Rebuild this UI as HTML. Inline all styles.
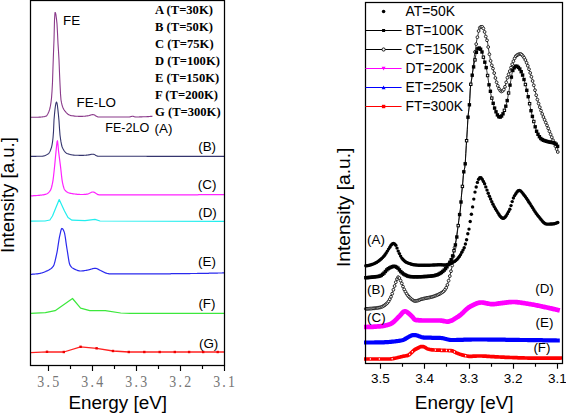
<!DOCTYPE html>
<html><head><meta charset="utf-8"><style>
html,body{margin:0;padding:0;background:#fff;width:566px;height:414px;overflow:hidden}
svg{position:absolute;left:0;top:0}

.ser{font-family:"Liberation Serif",serif}
</style></head><body>
<svg width="566" height="414" viewBox="0 0 566 414">
<g fill="none" stroke-linejoin="round">
<path d="M30.5 117.3 L31 117.3 L31.5 117.3 L32 117.3 L32.5 117.3 L33 117.3 L33.5 117.3 L34 117.3 L34.5 117.3 L35 117.3 L35.5 117.2 L36 117.2 L36.5 117.2 L37 117.2 L37.5 117.2 L38 117.2 L38.5 117.2 L39 117.1 L39.5 117.1 L40 117.1 L40.5 117.1 L41 117 L41.5 117 L42 117 L42.5 116.9 L43 116.8 L43.5 116.8 L44 116.7 L44.5 116.6 L45 116.4 L45.5 116.3 L46 116.2 L46.5 115.8 L47 115.3 L47.5 114.5 L48 113.6 L48.5 112.5 L49 111.3 L49.5 109.9 L50 108 L50.5 105.5 L51 102.3 L51.5 98.1 L52 91.5 L52.5 82.2 L53 66.8 L53.5 52.8 L54 40 L54.5 20 L55 12.5 L55.5 12.8 L56 15.2 L56.5 19.1 L57 23.9 L57.5 33 L58 43.6 L58.5 51.3 L59 60 L59.5 72.7 L60 84.1 L60.5 93.9 L61 100 L61.5 102.7 L62 104.8 L62.5 106.5 L63 107.8 L63.5 108.9 L64 109.7 L64.5 110.4 L65 111.1 L65.5 111.7 L66 112.3 L66.5 112.8 L67 113.3 L67.5 113.8 L68 114.2 L68.5 114.5 L69 114.9 L69.5 115.1 L70 115.3 L70.5 115.5 L71 115.6 L71.5 115.7 L72 115.8 L72.5 115.8 L73 115.9 L73.5 115.9 L74 116 L74.5 116.1 L75 116.1 L75.5 116.2 L76 116.2 L76.5 116.2 L77 116.3 L77.5 116.3 L78 116.3 L78.5 116.4 L79 116.4 L79.5 116.4 L80 116.4 L80.5 116.4 L81 116.4 L81.5 116.4 L82 116.4 L82.5 116.4 L83 116.3 L83.5 116.3 L84 116.2 L84.5 116.2 L85 116.2 L85.5 116.1 L86 116 L86.5 116 L87 115.9 L87.5 115.9 L88 115.8 L88.5 115.7 L89 115.6 L89.5 115.4 L90 115.3 L90.5 115.1 L91 115 L91.5 114.8 L92 114.7 L92.5 114.6 L93 114.6 L93.5 114.7 L94 114.8 L94.5 115.1 L95 115.3 L95.5 115.7 L96 116 L96.5 116.3 L97 116.6 L97.5 116.8 L98 117 L98.5 117 L99 117 L99.5 117 L100 117 L100.5 117 L101 117 L101.5 117 L102 117 L102.5 117 L103 117 L103.5 117 L104 117 L104.5 117 L105 117 L105.5 117 L106 117 L106.5 117 L107 117 L107.5 117 L108 117 L108.5 117 L109 117 L109.5 117 L110 117 L110.5 117 L111 117 L111.5 117 L112 117 L112.5 117 L113 117 L113.5 117 L114 117 L114.5 117 L115 117 L115.5 117 L116 117 L116.5 117 L117 117 L117.5 117 L118 117 L118.5 117 L119 117 L119.5 117 L120 117 L120.5 117 L121 117 L121.5 117 L122 117 L122.5 117 L123 117 L123.5 117 L124 117 L124.5 117 L125 117 L125.5 117 L126 117 L126.5 117 L127 117 L127.5 117 L128 117 L128.5 117 L129 117 L129.5 117 L130 116.9 L130.5 116.8 L131 116.6 L131.5 116.4 L132 116.2 L132.5 116.2 L133 116.3 L133.5 116.4 L134 116.6 L134.5 116.7 L135 116.9 L135.5 117 L136 117 L136.5 117 L137 117 L137.5 117 L138 117 L138.5 117 L139 117 L139.5 116.9 L140 116.9 L140.5 116.9 L141 116.9 L141.5 116.9 L142 116.9 L142.5 116.8 L143 116.8 L143.5 116.8 L144 116.8 L144.5 116.8 L145 116.7 L145.5 116.7 L146 116.7 L146.5 116.7 L147 116.6 L147.5 116.6 L148 116.6 L148.5 116.6 L149 116.5 L149.5 116.5 L150 116.5 L150.5 116.4 L151 116.4 L151.5 116.4 L152 116.3 L152.5 116.3" stroke="#8a3a8a" stroke-width="1.1"/>
<path d="M30.5 156.4 L31 156.4 L31.5 156.4 L32 156.4 L32.5 156.4 L33 156.4 L33.5 156.4 L34 156.4 L34.5 156.4 L35 156.4 L35.5 156.4 L36 156.4 L36.5 156.3 L37 156.3 L37.5 156.3 L38 156.3 L38.5 156.3 L39 156.3 L39.5 156.3 L40 156.3 L40.5 156.3 L41 156.2 L41.5 156.2 L42 156.2 L42.5 156.2 L43 156.1 L43.5 156 L44 155.9 L44.5 155.7 L45 155.6 L45.5 155.4 L46 155.1 L46.5 154.9 L47 154.6 L47.5 154.3 L48 154 L48.5 153.6 L49 153.1 L49.5 152.3 L50 151.4 L50.5 150.2 L51 148.8 L51.5 147.3 L52 145.1 L52.5 142.1 L53 138 L53.5 131.6 L54 120 L54.5 114.2 L55 109.3 L55.5 105.5 L56 102.9 L56.5 102 L57 103.2 L57.5 106.2 L58 110.6 L58.5 115.5 L59 120.9 L59.5 128.6 L60 135 L60.5 138.7 L61 141.9 L61.5 144.5 L62 146.5 L62.5 147.8 L63 148.8 L63.5 149.7 L64 150.6 L64.5 151.3 L65 151.9 L65.5 152.4 L66 152.9 L66.5 153.2 L67 153.5 L67.5 153.7 L68 153.8 L68.5 154 L69 154.2 L69.5 154.3 L70 154.4 L70.5 154.6 L71 154.7 L71.5 154.8 L72 154.9 L72.5 155 L73 155 L73.5 155.1 L74 155.1 L74.5 155.2 L75 155.2 L75.5 155.2 L76 155.2 L76.5 155.3 L77 155.3 L77.5 155.3 L78 155.3 L78.5 155.3 L79 155.4 L79.5 155.4 L80 155.4 L80.5 155.4 L81 155.4 L81.5 155.4 L82 155.4 L82.5 155.4 L83 155.4 L83.5 155.4 L84 155.3 L84.5 155.3 L85 155.3 L85.5 155.2 L86 155.2 L86.5 155.1 L87 155.1 L87.5 155 L88 155 L88.5 154.9 L89 154.9 L89.5 154.8 L90 154.6 L90.5 154.5 L91 154.4 L91.5 154.3 L92 154.3 L92.5 154.2 L93 154.2 L93.5 154.3 L94 154.4 L94.5 154.6 L95 154.9 L95.5 155.2 L96 155.5 L96.5 155.8 L97 156 L97.5 156.1 L98 156.2 L98.5 156.2 L99 156.2 L99.5 156.2 L100 156.2 L100.5 156.2 L101 156.2 L101.5 156.2 L102 156.2 L102.5 156.2 L103 156.2 L103.5 156.2 L104 156.2 L104.5 156.2 L105 156.2 L105.5 156.2 L106 156.2 L106.5 156.2 L107 156.2 L107.5 156.2 L108 156.2 L108.5 156.2 L109 156.2 L109.5 156.2 L110 156.2 L110.5 156.3 L111 156.3 L111.5 156.3 L112 156.3 L112.5 156.3 L113 156.3 L113.5 156.3 L114 156.3 L114.5 156.3 L115 156.3 L115.5 156.3 L116 156.3 L116.5 156.3 L117 156.3 L117.5 156.3 L118 156.3 L118.5 156.3 L119 156.3 L119.5 156.3 L120 156.3 L120.5 156.3 L121 156.3 L121.5 156.3 L122 156.3 L122.5 156.3 L123 156.3 L123.5 156.3 L124 156.3 L124.5 156.3 L125 156.3 L125.5 156.3 L126 156.3 L126.5 156.3 L127 156.3 L127.5 156.3 L128 156.3 L128.5 156.3 L129 156.3 L129.5 156.3 L130 156.3 L130.5 156.3 L131 156.3 L131.5 156.3 L132 156.3 L132.5 156.3 L133 156.3 L133.5 156.3 L134 156.3 L134.5 156.3 L135 156.3 L135.5 156.3 L136 156.3 L136.5 156.3 L137 156.3 L137.5 156.3 L138 156.3 L138.5 156.3 L139 156.3 L139.5 156.3 L140 156.3 L140.5 156.3 L141 156.3 L141.5 156.3 L142 156.3 L142.5 156.3 L143 156.3 L143.5 156.3 L144 156.3 L144.5 156.3 L145 156.3 L145.5 156.3 L146 156.3 L146.5 156.3 L147 156.4 L147.5 156.4 L148 156.4 L148.5 156.4 L149 156.4 L149.5 156.4 L150 156.4 L150.5 156.4 L151 156.4 L151.5 156.4 L152 156.4 L152.5 156.4 L153 156.4 L153.5 156.4 L154 156.4 L154.5 156.4 L155 156.4 L155.5 156.4 L156 156.4 L156.5 156.4 L157 156.4 L157.5 156.4 L158 156.4 L158.5 156.4 L159 156.4 L159.5 156.4 L160 156.4 L160.5 156.4 L161 156.4 L161.5 156.4 L162 156.4 L162.5 156.4 L163 156.4 L163.5 156.4 L164 156.4 L164.5 156.4 L165 156.4 L165.5 156.4 L166 156.4 L166.5 156.4 L167 156.4 L167.5 156.4 L168 156.4 L168.5 156.4 L169 156.4 L169.5 156.4 L170 156.4 L170.5 156.4 L171 156.4 L171.5 156.4 L172 156.4 L172.5 156.4 L173 156.4 L173.5 156.4 L174 156.4 L174.5 156.4 L175 156.4 L175.5 156.4 L176 156.4 L176.5 156.4 L177 156.4 L177.5 156.4 L178 156.4 L178.5 156.4 L179 156.4 L179.5 156.4 L180 156.4 L180.5 156.4 L181 156.4 L181.5 156.4 L182 156.4 L182.5 156.4 L183 156.4 L183.5 156.4 L184 156.4 L184.5 156.4 L185 156.4 L185.5 156.4 L186 156.4 L186.5 156.4 L187 156.4 L187.5 156.4 L188 156.4 L188.5 156.4 L189 156.4 L189.5 156.4 L190 156.4 L190.5 156.4 L191 156.4 L191.5 156.4 L192 156.4 L192.5 156.4 L193 156.4 L193.5 156.4 L194 156.4 L194.5 156.4 L195 156.4 L195.5 156.4 L196 156.4 L196.5 156.4 L197 156.4 L197.5 156.4 L198 156.4 L198.5 156.4 L199 156.4 L199.5 156.4 L200 156.4 L200.5 156.4 L201 156.4 L201.5 156.4 L202 156.4 L202.5 156.4 L203 156.4 L203.5 156.4 L204 156.4 L204.5 156.4 L205 156.4 L205.5 156.4 L206 156.4 L206.5 156.4 L207 156.4 L207.5 156.4 L208 156.4 L208.5 156.4 L209 156.4 L209.5 156.4 L210 156.4 L210.5 156.4 L211 156.4 L211.5 156.4 L212 156.4 L212.5 156.4 L213 156.4 L213.5 156.4 L214 156.4 L214.5 156.4 L215 156.4 L215.5 156.4 L216 156.4 L216.5 156.4 L217 156.4 L217.5 156.4 L218 156.4 L218.5 156.4 L219 156.4 L219.5 156.4 L220 156.4 L220.5 156.4 L221 156.4 L221.5 156.4 L222 156.4 L222.5 156.4 L223 156.4 L223.5 156.4 L224 156.4" stroke="#35356e" stroke-width="1.1"/>
<path d="M30.5 195.8 L31 195.8 L31.5 195.8 L32 195.8 L32.5 195.8 L33 195.8 L33.5 195.7 L34 195.7 L34.5 195.7 L35 195.7 L35.5 195.6 L36 195.6 L36.5 195.5 L37 195.5 L37.5 195.5 L38 195.4 L38.5 195.4 L39 195.3 L39.5 195.3 L40 195.2 L40.5 195.2 L41 195.1 L41.5 195.1 L42 195 L42.5 194.9 L43 194.9 L43.5 194.8 L44 194.7 L44.5 194.6 L45 194.4 L45.5 194.3 L46 194.2 L46.5 194 L47 193.8 L47.5 193.5 L48 193.1 L48.5 192.7 L49 192.2 L49.5 191.6 L50 190.9 L50.5 190.2 L51 189.1 L51.5 187.5 L52 185.5 L52.5 183.1 L53 180.3 L53.5 176.5 L54 172 L54.5 167.3 L55 162.3 L55.5 156.8 L56 151.6 L56.5 146.7 L57 142 L57.5 140.7 L58 145 L58.5 150.7 L59 154.8 L59.5 158.7 L60 162.5 L60.5 166.4 L61 170.8 L61.5 175.5 L62 179.6 L62.5 182.6 L63 184.8 L63.5 186.8 L64 188.4 L64.5 189.5 L65 190.2 L65.5 190.8 L66 191.2 L66.5 191.7 L67 192 L67.5 192.3 L68 192.6 L68.5 192.8 L69 193 L69.5 193.1 L70 193.2 L70.5 193.3 L71 193.4 L71.5 193.5 L72 193.6 L72.5 193.7 L73 193.8 L73.5 193.8 L74 193.9 L74.5 194 L75 194 L75.5 194.1 L76 194.2 L76.5 194.2 L77 194.3 L77.5 194.3 L78 194.3 L78.5 194.4 L79 194.4 L79.5 194.4 L80 194.5 L80.5 194.5 L81 194.5 L81.5 194.5 L82 194.5 L82.5 194.5 L83 194.5 L83.5 194.5 L84 194.4 L84.5 194.4 L85 194.4 L85.5 194.3 L86 194.3 L86.5 194.2 L87 194.2 L87.5 194.1 L88 194 L88.5 193.8 L89 193.5 L89.5 193.3 L90 193 L90.5 192.8 L91 192.5 L91.5 192.3 L92 192.1 L92.5 192 L93 192 L93.5 192.1 L94 192.2 L94.5 192.4 L95 192.7 L95.5 193.1 L96 193.4 L96.5 193.7 L97 194.1 L97.5 194.4 L98 194.6 L98.5 194.7 L99 194.8 L99.5 194.8 L100 194.8 L100.5 194.8 L101 194.8 L101.5 194.8 L102 194.8 L102.5 194.8 L103 194.8 L103.5 194.8 L104 194.8 L104.5 194.8 L105 194.8 L105.5 194.8 L106 194.8 L106.5 194.8 L107 194.8 L107.5 194.8 L108 194.8 L108.5 194.8 L109 194.8 L109.5 194.8 L110 194.8 L110.5 194.8 L111 194.8 L111.5 194.8 L112 194.8 L112.5 194.8 L113 194.8 L113.5 194.8 L114 194.8 L114.5 194.8 L115 194.8 L115.5 194.8 L116 194.8 L116.5 194.8 L117 194.8 L117.5 194.8 L118 194.8 L118.5 194.8 L119 194.8 L119.5 194.8 L120 194.8 L120.5 194.8 L121 194.8 L121.5 194.8 L122 194.8 L122.5 194.8 L123 194.8 L123.5 194.8 L124 194.8 L124.5 194.8 L125 194.8 L125.5 194.8 L126 194.8 L126.5 194.8 L127 194.8 L127.5 194.8 L128 194.8 L128.5 194.8 L129 194.8 L129.5 194.8 L130 194.8 L130.5 194.8 L131 194.8 L131.5 194.8 L132 194.8 L132.5 194.8 L133 194.8 L133.5 194.8 L134 194.8 L134.5 194.8 L135 194.8 L135.5 194.8 L136 194.8 L136.5 194.8 L137 194.8 L137.5 194.8 L138 194.8 L138.5 194.8 L139 194.8 L139.5 194.8 L140 194.8 L140.5 194.8 L141 194.8 L141.5 194.8 L142 194.8 L142.5 194.8 L143 194.8 L143.5 194.8 L144 194.8 L144.5 194.8 L145 194.8 L145.5 194.8 L146 194.8 L146.5 194.8 L147 194.8 L147.5 194.8 L148 194.8 L148.5 194.8 L149 194.8 L149.5 194.8 L150 194.8 L150.5 194.8 L151 194.8 L151.5 194.8 L152 194.8 L152.5 194.8 L153 194.8 L153.5 194.8 L154 194.8 L154.5 194.8 L155 194.8 L155.5 194.8 L156 194.8 L156.5 194.8 L157 194.8 L157.5 194.8 L158 194.8 L158.5 194.8 L159 194.8 L159.5 194.8 L160 194.8 L160.5 194.8 L161 194.8 L161.5 194.8 L162 194.8 L162.5 194.8 L163 194.8 L163.5 194.8 L164 194.8 L164.5 194.8 L165 194.8 L165.5 194.8 L166 194.8 L166.5 194.8 L167 194.8 L167.5 194.8 L168 194.8 L168.5 194.8 L169 194.8 L169.5 194.8 L170 194.8 L170.5 194.8 L171 194.8 L171.5 194.8 L172 194.8 L172.5 194.8 L173 194.8 L173.5 194.8 L174 194.8 L174.5 194.8 L175 194.8 L175.5 194.8 L176 194.8 L176.5 194.8 L177 194.8 L177.5 194.8 L178 194.8 L178.5 194.8 L179 194.8 L179.5 194.8 L180 194.8 L180.5 194.8 L181 194.8 L181.5 194.8 L182 194.8 L182.5 194.8 L183 194.8 L183.5 194.8 L184 194.8 L184.5 194.8 L185 194.8 L185.5 194.8 L186 194.8 L186.5 194.8 L187 194.8 L187.5 194.8 L188 194.8 L188.5 194.8 L189 194.8 L189.5 194.8 L190 194.8 L190.5 194.8 L191 194.8 L191.5 194.8 L192 194.8 L192.5 194.8 L193 194.8 L193.5 194.8 L194 194.8 L194.5 194.8 L195 194.8 L195.5 194.8 L196 194.8 L196.5 194.8 L197 194.8 L197.5 194.8 L198 194.8 L198.5 194.7 L199 194.7 L199.5 194.7 L200 194.7 L200.5 194.7 L201 194.7 L201.5 194.7 L202 194.7 L202.5 194.7 L203 194.7 L203.5 194.7 L204 194.7 L204.5 194.7 L205 194.7 L205.5 194.7 L206 194.7 L206.5 194.7 L207 194.7 L207.5 194.7 L208 194.7 L208.5 194.7 L209 194.7 L209.5 194.7 L210 194.7 L210.5 194.7 L211 194.7 L211.5 194.7 L212 194.7 L212.5 194.7 L213 194.7 L213.5 194.7 L214 194.7 L214.5 194.7 L215 194.7 L215.5 194.7 L216 194.7 L216.5 194.7 L217 194.7 L217.5 194.7 L218 194.7 L218.5 194.7 L219 194.7 L219.5 194.7 L220 194.7 L220.5 194.7 L221 194.7 L221.5 194.7 L222 194.7 L222.5 194.7 L223 194.7 L223.5 194.7 L224 194.7" stroke="#ff22ff" stroke-width="1.2"/>
<path d="M30.5 221.2 L45 221 L49.9 220 L52.5 216 L59.2 199.5 L64.5 211 L68 217.5 L72 220.2 L85 220.6 L95 219.4 L100 221 L224 221.3" stroke="#22eeee" stroke-width="1.2"/>
<path d="M30.5 274.3 L31 274.3 L31.5 274.3 L32 274.3 L32.5 274.2 L33 274.2 L33.5 274.2 L34 274.1 L34.5 274.1 L35 274 L35.5 274 L36 273.9 L36.5 273.9 L37 273.8 L37.5 273.8 L38 273.7 L38.5 273.6 L39 273.6 L39.5 273.5 L40 273.4 L40.5 273.3 L41 273.1 L41.5 273 L42 272.9 L42.5 272.7 L43 272.5 L43.5 272.4 L44 272.2 L44.5 272 L45 271.8 L45.5 271.6 L46 271.3 L46.5 271.1 L47 270.9 L47.5 270.7 L48 270.4 L48.5 270.2 L49 269.9 L49.5 269.6 L50 269.3 L50.5 269 L51 268.6 L51.5 268.2 L52 267.8 L52.5 267.2 L53 266.7 L53.5 265.9 L54 264.7 L54.5 263.2 L55 261.3 L55.5 259.2 L56 257 L56.5 254.7 L57 252.3 L57.5 249.5 L58 246.2 L58.5 242.9 L59 239.7 L59.5 236.9 L60 234.6 L60.5 232.3 L61 230.2 L61.5 228.8 L62 228.4 L62.5 228.7 L63 229.4 L63.5 230.3 L64 231.4 L64.5 232.9 L65 235.5 L65.5 238.7 L66 242.3 L66.5 245.8 L67 249 L67.5 252.1 L68 255.4 L68.5 258.7 L69 261.6 L69.5 263.8 L70 265.1 L70.5 265.9 L71 266.5 L71.5 267.1 L72 267.6 L72.5 268 L73 268.3 L73.5 268.6 L74 268.9 L74.5 269.1 L75 269.4 L75.5 269.6 L76 269.8 L76.5 270 L77 270.2 L77.5 270.4 L78 270.6 L78.5 270.7 L79 270.8 L79.5 270.9 L80 271 L80.5 271 L81 271 L81.5 271 L82 270.9 L82.5 270.9 L83 270.9 L83.5 270.8 L84 270.7 L84.5 270.6 L85 270.5 L85.5 270.5 L86 270.4 L86.5 270.3 L87 270.2 L87.5 270.1 L88 270 L88.5 269.9 L89 269.8 L89.5 269.6 L90 269.5 L90.5 269.3 L91 269.2 L91.5 269 L92 268.9 L92.5 268.7 L93 268.6 L93.5 268.5 L94 268.4 L94.5 268.3 L95 268.3 L95.5 268.3 L96 268.4 L96.5 268.5 L97 268.7 L97.5 268.9 L98 269.1 L98.5 269.4 L99 269.7 L99.5 269.9 L100 270.2 L100.5 270.5 L101 270.7 L101.5 270.9 L102 271.2 L102.5 271.4 L103 271.7 L103.5 271.9 L104 272.2 L104.5 272.4 L105 272.7 L105.5 272.9 L106 273.1 L106.5 273.2 L107 273.4 L107.5 273.5 L108 273.6 L108.5 273.7 L109 273.8 L109.5 273.9 L110 273.9 L110.5 273.9 L111 273.9 L111.5 273.9 L112 273.9 L112.5 273.9 L113 273.9 L113.5 273.9 L114 273.9 L114.5 273.9 L115 273.9 L115.5 273.9 L116 273.9 L116.5 273.9 L117 273.9 L117.5 273.9 L118 273.9 L118.5 273.9 L119 273.9 L119.5 273.9 L120 273.9 L120.5 273.9 L121 273.9 L121.5 273.9 L122 273.9 L122.5 273.9 L123 273.9 L123.5 273.9 L124 273.9 L124.5 273.9 L125 273.9 L125.5 273.9 L126 273.9 L126.5 273.9 L127 273.9 L127.5 273.9 L128 273.9 L128.5 273.9 L129 273.9 L129.5 273.9 L130 273.9 L130.5 273.9 L131 273.9 L131.5 273.9 L132 273.9 L132.5 273.9 L133 273.9 L133.5 273.9 L134 273.9 L134.5 273.9 L135 273.9 L135.5 273.9 L136 273.9 L136.5 273.9 L137 273.9 L137.5 273.9 L138 273.9 L138.5 273.9 L139 273.9 L139.5 273.9 L140 273.9 L140.5 273.9 L141 273.9 L141.5 273.9 L142 273.9 L142.5 273.9 L143 273.9 L143.5 273.9 L144 273.9 L144.5 273.9 L145 273.9 L145.5 273.9 L146 273.9 L146.5 273.9 L147 273.9 L147.5 273.9 L148 273.9 L148.5 273.9 L149 273.9 L149.5 273.9 L150 273.9 L150.5 273.9 L151 273.9 L151.5 273.9 L152 273.8 L152.5 273.8 L153 273.8 L153.5 273.8 L154 273.8 L154.5 273.8 L155 273.8 L155.5 273.8 L156 273.8 L156.5 273.8 L157 273.8 L157.5 273.8 L158 273.8 L158.5 273.8 L159 273.8 L159.5 273.8 L160 273.8 L160.5 273.8 L161 273.8 L161.5 273.8 L162 273.8 L162.5 273.8 L163 273.8 L163.5 273.8 L164 273.8 L164.5 273.8 L165 273.8 L165.5 273.8 L166 273.8 L166.5 273.8 L167 273.8 L167.5 273.8 L168 273.8 L168.5 273.8 L169 273.8 L169.5 273.8 L170 273.8 L170.5 273.8 L171 273.7 L171.5 273.7 L172 273.7 L172.5 273.7 L173 273.7 L173.5 273.7 L174 273.7 L174.5 273.7 L175 273.7 L175.5 273.7 L176 273.7 L176.5 273.7 L177 273.7 L177.5 273.7 L178 273.7 L178.5 273.7 L179 273.7 L179.5 273.7 L180 273.7 L180.5 273.7 L181 273.7 L181.5 273.7 L182 273.6 L182.5 273.6 L183 273.6 L183.5 273.6 L184 273.6 L184.5 273.6 L185 273.6 L185.5 273.6 L186 273.6 L186.5 273.6 L187 273.6 L187.5 273.6 L188 273.6 L188.5 273.6 L189 273.6 L189.5 273.6 L190 273.6 L190.5 273.5 L191 273.5 L191.5 273.5 L192 273.5 L192.5 273.5 L193 273.5 L193.5 273.5 L194 273.5 L194.5 273.5 L195 273.5 L195.5 273.5 L196 273.5 L196.5 273.5 L197 273.5 L197.5 273.4 L198 273.4 L198.5 273.4 L199 273.4 L199.5 273.4 L200 273.4 L200.5 273.4 L201 273.4 L201.5 273.4 L202 273.4 L202.5 273.4 L203 273.4 L203.5 273.3 L204 273.3 L204.5 273.3 L205 273.3 L205.5 273.3 L206 273.3 L206.5 273.3 L207 273.3 L207.5 273.3 L208 273.3 L208.5 273.3 L209 273.2 L209.5 273.2 L210 273.2 L210.5 273.2 L211 273.2 L211.5 273.2 L212 273.2 L212.5 273.2 L213 273.2 L213.5 273.2 L214 273.1 L214.5 273.1 L215 273.1 L215.5 273.1 L216 273.1 L216.5 273.1 L217 273.1 L217.5 273.1 L218 273 L218.5 273 L219 273 L219.5 273 L220 273 L220.5 273 L221 273 L221.5 273 L222 273 L222.5 272.9 L223 272.9 L223.5 272.9 L224 272.9" stroke="#2a2aee" stroke-width="1.2"/>
<path d="M30.5 313.4 L45.4 312.6 L55.1 310.7 L72.5 298.5 L80.6 308.2 L89.8 310.7 L105.3 310.7 L120.7 313 L130 313.4 L224 313.4" stroke="#3ce83c" stroke-width="1.2"/>
<path d="M30.5 352.6 L47 351.8 L63.8 352 L80.6 346.8 L96.6 348.3 L113 351 L128.8 352 L224 352" stroke="#ff2020" stroke-width="1.3"/>
</g>
<g fill="#ee0000"><rect x="45.8" y="350.6" width="2.4" height="2.4"/><rect x="62.6" y="350.8" width="2.4" height="2.4"/><rect x="79.4" y="345.6" width="2.4" height="2.4"/><rect x="95.4" y="347.1" width="2.4" height="2.4"/><rect x="111.8" y="349.8" width="2.4" height="2.4"/><rect x="127.6" y="350.8" width="2.4" height="2.4"/><rect x="143.1" y="350.8" width="2.4" height="2.4"/><rect x="158.5" y="350.8" width="2.4" height="2.4"/><rect x="173.6" y="350.8" width="2.4" height="2.4"/><rect x="187.9" y="350.8" width="2.4" height="2.4"/><rect x="202" y="350.8" width="2.4" height="2.4"/><rect x="216.5" y="350.8" width="2.4" height="2.4"/></g>
<rect x="30.5" y="0.5" width="194" height="365" fill="none" stroke="#000" stroke-width="1.25"/>
<path d="M48.5 365.5 V371 M70.5 365.5 V369 M92.5 365.5 V371 M114.5 365.5 V369 M136.5 365.5 V371 M158.5 365.5 V369 M180.5 365.5 V371 M202.5 365.5 V369 M224.5 365.5 V371 " stroke="#000" stroke-width="1.15"/>
<text transform="translate(49.4 386.6) scale(0.86 1)" text-anchor="middle" font-family="Liberation Serif" font-size="16.2" fill="#777" letter-spacing="2.6">3.5</text>
<text transform="translate(93.3 386.6) scale(0.86 1)" text-anchor="middle" font-family="Liberation Serif" font-size="16.2" fill="#777" letter-spacing="2.6">3.4</text>
<text transform="translate(137.3 386.6) scale(0.86 1)" text-anchor="middle" font-family="Liberation Serif" font-size="16.2" fill="#777" letter-spacing="2.6">3.3</text>
<text transform="translate(181.3 386.6) scale(0.86 1)" text-anchor="middle" font-family="Liberation Serif" font-size="16.2" fill="#777" letter-spacing="2.6">3.2</text>
<text transform="translate(225.2 386.6) scale(0.86 1)" text-anchor="middle" font-family="Liberation Serif" font-size="16.2" fill="#777" letter-spacing="2.6">3.1</text>
<g fill="none" stroke-linejoin="round" stroke-linecap="butt">
<path d="M364 327 L365 327 L366 327 L367 327 L368 326.9 L369 326.9 L370 326.9 L371 326.8 L372 326.8 L373 326.8 L374 326.7 L375 326.6 L376 326.6 L377 326.5 L378 326.4 L379 326.4 L380 326.3 L381 326.2 L382 326.1 L383 325.9 L384 325.8 L385 325.6 L386 325.3 L387 325.1 L388 324.8 L389 324.5 L390 324.1 L391 323.7 L392 323.2 L393 322.4 L394 321.6 L395 320.6 L396 319.6 L397 318.6 L398 317.5 L399 316.6 L400 315.6 L401 314.4 L402 313.2 L403 312.2 L404 311.5 L405 311.3 L406 311.5 L407 312 L408 312.8 L409 313.6 L410 314.6 L411 315.5 L412 316.4 L413 317.6 L414 318.9 L415 319.8 L416 320.1 L417 320.2 L418 320.2 L419 320.3 L420 320.4 L421 320.4 L422 320.5 L423 320.5 L424 320.5 L425 320.5 L426 320.5 L427 320.5 L428 320.5 L429 320.5 L430 320.5 L431 320.5 L432 320.5 L433 320.5 L434 320.5 L435 320.5 L436 320.5 L437 320.5 L438 320.5 L439 320.5 L440 320.5 L441 320.6 L442 320.7 L443 320.9 L444 321.1 L445 321.3 L446 321.5 L447 321.6 L448 321.6 L449 321.4 L450 321.1 L451 320.8 L452 320.3 L453 319.8 L454 319.2 L455 318.6 L456 317.9 L457 317.3 L458 316.7 L459 316 L460 315.3 L461 314.5 L462 313.6 L463 312.7 L464 311.7 L465 310.7 L466 309.7 L467 308.8 L468 308 L469 307.3 L470 306.7 L471 306.2 L472 305.6 L473 305.1 L474 304.6 L475 304.1 L476 303.7 L477 303.3 L478 303 L479 302.7 L480 302.6 L481 302.5 L482 302.5 L483 302.6 L484 302.8 L485 302.9 L486 303.2 L487 303.4 L488 303.6 L489 303.8 L490 304 L491 304.1 L492 304.2 L493 304.2 L494 304.1 L495 304 L496 303.9 L497 303.7 L498 303.6 L499 303.4 L500 303.3 L501 303.2 L502 303.1 L503 302.9 L504 302.8 L505 302.7 L506 302.6 L507 302.4 L508 302.3 L509 302.2 L510 302.1 L511 302.1 L512 302 L513 302 L514 302 L515 302 L516 302.1 L517 302.2 L518 302.3 L519 302.4 L520 302.5 L521 302.7 L522 302.8 L523 303 L524 303.1 L525 303.3 L526 303.5 L527 303.6 L528 303.8 L529 304 L530 304.1 L531 304.3 L532 304.5 L533 304.6 L534 304.8 L535 305 L536 305.2 L537 305.4 L538 305.6 L539 305.8 L540 306 L541 306.2 L542 306.4 L543 306.7 L544 306.9 L545 307.1 L546 307.3 L547 307.5 L548 307.7 L549 307.9 L550 308.2 L551 308.4 L552 308.6 L553 308.9 L554 309.1 L555 309.3 L556 309.6 L557 309.8 L558 310.1 L559 310.3 L559.8 310.5" stroke="#ff00ff" stroke-width="4.7"/>
<path d="M364 342.5 L365 342.5 L366 342.5 L367 342.5 L368 342.5 L369 342.5 L370 342.5 L371 342.5 L372 342.5 L373 342.5 L374 342.5 L375 342.4 L376 342.4 L377 342.4 L378 342.4 L379 342.4 L380 342.4 L381 342.4 L382 342.4 L383 342.3 L384 342.3 L385 342.2 L386 342.2 L387 342.1 L388 342.1 L389 342 L390 341.9 L391 341.8 L392 341.7 L393 341.6 L394 341.5 L395 341.4 L396 341.2 L397 341.1 L398 341 L399 340.8 L400 340.7 L401 340.5 L402 340.3 L403 340 L404 339.6 L405 339 L406 338.5 L407 337.9 L408 337.3 L409 336.7 L410 336.1 L411 335.7 L412 335.3 L413 335.1 L414 335 L415 335.1 L416 335.2 L417 335.5 L418 335.8 L419 336.2 L420 336.5 L421 336.9 L422 337.2 L423 337.4 L424 337.6 L425 337.6 L426 337.6 L427 337.7 L428 337.7 L429 337.7 L430 337.7 L431 337.7 L432 337.8 L433 337.8 L434 337.8 L435 337.8 L436 337.8 L437 337.8 L438 337.8 L439 337.9 L440 337.9 L441 338 L442 338.1 L443 338.3 L444 338.5 L445 338.8 L446 339 L447 339.3 L448 339.5 L449 339.7 L450 339.9 L451 340 L452 340 L453 340 L454 340 L455 340 L456 340 L457 339.9 L458 339.9 L459 339.9 L460 339.9 L461 339.8 L462 339.8 L463 339.8 L464 339.7 L465 339.7 L466 339.7 L467 339.7 L468 339.6 L469 339.6 L470 339.6 L471 339.6 L472 339.5 L473 339.5 L474 339.5 L475 339.5 L476 339.5 L477 339.5 L478 339.5 L479 339.5 L480 339.5 L481 339.5 L482 339.5 L483 339.5 L484 339.5 L485 339.5 L486 339.5 L487 339.5 L488 339.6 L489 339.6 L490 339.6 L491 339.6 L492 339.6 L493 339.6 L494 339.6 L495 339.6 L496 339.6 L497 339.6 L498 339.7 L499 339.7 L500 339.7 L501 339.7 L502 339.7 L503 339.7 L504 339.7 L505 339.7 L506 339.8 L507 339.8 L508 339.8 L509 339.8 L510 339.8 L511 339.8 L512 339.8 L513 339.9 L514 339.9 L515 339.9 L516 339.9 L517 339.9 L518 339.9 L519 339.9 L520 340 L521 340 L522 340 L523 340 L524 340 L525 340 L526 340 L527 340 L528 340.1 L529 340.1 L530 340.1 L531 340.1 L532 340.1 L533 340.1 L534 340.1 L535 340.1 L536 340.2 L537 340.2 L538 340.2 L539 340.2 L540 340.2 L541 340.2 L542 340.2 L543 340.3 L544 340.3 L545 340.3 L546 340.3 L547 340.3 L548 340.3 L549 340.3 L550 340.4 L551 340.4 L552 340.4 L553 340.4 L554 340.4 L555 340.4 L556 340.4 L557 340.5 L558 340.5 L559 340.5 L559.8 340.5" stroke="#0000ff" stroke-width="4.2"/>
<path d="M364 359 L365 359 L366 359 L367 359 L368 359 L369 359 L370 359 L371 359 L372 359 L373 359 L374 359 L375 359 L376 359 L377 359 L378 359 L379 359 L380 359 L381 359 L382 359 L383 359 L384 359 L385 359 L386 359 L387 359 L388 359 L389 359 L390 359 L391 358.9 L392 358.8 L393 358.6 L394 358.4 L395 358.2 L396 358 L397 357.8 L398 357.5 L399 357.3 L400 357.1 L401 356.8 L402 356.6 L403 356.3 L404 356.1 L405 356 L406 355.8 L407 355.6 L408 355.4 L409 354.9 L410 354 L411 353 L412 352.1 L413 351.1 L414 350.3 L415 349.5 L416 349 L417 348.5 L418 348 L419 347.5 L420 346.9 L421 346.6 L422 346.6 L423 346.6 L424 346.8 L425 347.3 L426 348 L427 348.6 L428 349 L429 349.2 L430 349.5 L431 349.7 L432 349.8 L433 349.9 L434 350 L435 350 L436 350.1 L437 350.1 L438 350.2 L439 350.2 L440 350.2 L441 350.3 L442 350.3 L443 350.4 L444 350.4 L445 350.4 L446 350.5 L447 350.5 L448 350.5 L449 350.6 L450 350.7 L451 350.7 L452 350.8 L453 351.1 L454 351.6 L455 352.2 L456 352.7 L457 353.1 L458 353.5 L459 353.9 L460 354.3 L461 354.6 L462 354.9 L463 355.1 L464 355.4 L465 355.6 L466 355.8 L467 356 L468 356.2 L469 356.3 L470 356.3 L471 356.3 L472 356.3 L473 356.2 L474 356.2 L475 356.1 L476 356.1 L477 356 L478 356 L479 356 L480 356 L481 356 L482 356 L483 356.1 L484 356.1 L485 356.2 L486 356.2 L487 356.3 L488 356.4 L489 356.4 L490 356.5 L491 356.6 L492 356.6 L493 356.7 L494 356.7 L495 356.8 L496 356.8 L497 356.9 L498 356.9 L499 357 L500 357 L501 357.1 L502 357.1 L503 357.2 L504 357.2 L505 357.3 L506 357.3 L507 357.4 L508 357.4 L509 357.4 L510 357.5 L511 357.5 L512 357.5 L513 357.6 L514 357.6 L515 357.7 L516 357.7 L517 357.7 L518 357.8 L519 357.8 L520 357.8 L521 357.9 L522 357.9 L523 357.9 L524 357.9 L525 358 L526 358 L527 358 L528 358.1 L529 358.1 L530 358.1 L531 358.1 L532 358.1 L533 358.1 L534 358.2 L535 358.2 L536 358.2 L537 358.2 L538 358.2 L539 358.2 L540 358.2 L541 358.2 L542 358.2 L543 358.2 L544 358.2 L545 358.2 L546 358.2 L547 358.2 L548 358.2 L549 358.2 L550 358.2 L551 358.2 L552 358.2 L553 358.2 L554 358.1 L555 358.1 L556 358.1 L557 358.1 L558 358.1 L559 358.1 L560 358.1 L561 358 L562 358 L563 358" stroke="#ff0000" stroke-width="3.7"/>
</g>
<g fill="#fff"><rect x="369.8" y="358.2" width="1.1" height="1.5"/><rect x="378.8" y="358.2" width="1.1" height="1.5"/><rect x="391.6" y="358" width="1.1" height="1.5"/><rect x="409.1" y="353.7" width="1.1" height="1.5"/><rect x="411.8" y="351" width="1.1" height="1.5"/><rect x="434.8" y="349.3" width="1.1" height="1.5"/><rect x="441.1" y="349.6" width="1.1" height="1.5"/><rect x="445.9" y="349.7" width="1.1" height="1.5"/><rect x="449.1" y="349.9" width="1.1" height="1.5"/><rect x="453.9" y="351.2" width="1.1" height="1.5"/><rect x="465.1" y="355" width="1.1" height="1.5"/></g>
<path d="M365.8 308.8 L366.3 308.8 L366.8 308.8 L367.3 308.8 L367.8 308.8 L368.3 308.8 L368.8 308.7 L369.3 308.7 L369.8 308.7 L370.3 308.6 L370.8 308.6 L371.3 308.6 L371.8 308.5 L372.3 308.5 L372.8 308.4 L373.3 308.4 L373.8 308.3 L374.3 308.3 L374.8 308.2 L375.3 308.1 L375.8 308.1 L376.3 308 L376.8 307.9 L377.3 307.9 L377.8 307.8 L378.3 307.7 L378.8 307.6 L379.3 307.5 L379.8 307.4 L380.3 307.3 L380.8 307.2 L381.3 307 L381.8 306.9 L382.3 306.6 L382.8 306.4 L383.3 306.1 L383.8 305.8 L384.3 305.5 L384.8 305.1 L385.3 304.7 L385.8 304.3 L386.3 303.9 L386.8 303.5 L387.3 303 L387.8 302.4 L388.3 301.8 L388.8 301 L389.3 300.2 L389.8 299.2 L390.3 298.2 L390.8 297.2 L391.3 296.1 L391.8 294.9 L392.3 293.4 L392.8 291.8 L393.3 290.1 L393.8 288.5 L394.3 287 L394.8 285.4 L395.3 283.8 L395.8 282.2 L396.3 280.7 L396.8 279.5 L397.3 278.5 L397.8 277.5 L398.3 277 L398.8 277.2 L399.3 277.8 L399.8 278.8 L400.3 279.9 L400.8 281.1 L401.3 282.2 L401.8 283.4 L402.3 284.7 L402.8 286.1 L403.3 287.4 L403.8 288.6 L404.3 289.6 L404.8 290.6 L405.3 291.6 L405.8 292.5 L406.3 293.3 L406.8 294.2 L407.3 294.9 L407.8 295.5 L408.3 296.1 L408.8 296.6 L409.3 297.1 L409.8 297.6 L410.3 298.1 L410.8 298.6 L411.3 299 L411.8 299.4 L412.3 299.8 L412.8 300.2 L413.3 300.4 L413.8 300.7 L414.3 300.9 L414.8 301 L415.3 301 L415.8 301 L416.3 300.9 L416.8 300.8 L417.3 300.7 L417.8 300.5 L418.3 300.4 L418.8 300.2 L419.3 300 L419.8 299.8 L420.3 299.6 L420.8 299.4 L421.3 299.2 L421.8 299.1 L422.3 298.9 L422.8 298.8 L423.3 298.7 L423.8 298.6 L424.3 298.5 L424.8 298.4 L425.3 298.3 L425.8 298.2 L426.3 298.1 L426.8 298 L427.3 297.9 L427.8 297.8 L428.3 297.7 L428.8 297.6 L429.3 297.5 L429.8 297.4 L430.3 297.3 L430.8 297.2 L431.3 297.1 L431.8 296.9 L432.3 296.8 L432.8 296.7 L433.3 296.5 L433.8 296.3 L434.3 296.2 L434.8 296 L435.3 295.8 L435.8 295.6 L436.3 295.4 L436.8 295.2 L437.3 295 L437.8 294.8 L438.3 294.5 L438.8 294.3 L439.3 294.1 L439.8 293.8 L440.3 293.6 L440.8 293.3 L441.3 293 L441.8 292.7 L442.3 292.3 L442.8 292 L443.3 291.6 L443.8 291.1 L444.3 290.5 L444.8 289.9 L445.3 289.2 L445.8 288.4 L446.3 287.6 L446.8 286.6 L447.3 285.2 L447.8 283.5 L448.3 281.7 L448.8 279.9 L449.3 278.1 L449.8 276.1 L450.3 274.1 L450.8 272.1 L451.3 270 L451.8 267.6 L452.3 264.9 L452.8 261.3 L453.3 257 L453.8 252.9 L454.3 249.5 L454.8 246.5 L455.3 243.6 L455.8 240.7 L456.3 237.6 L456.8 234.4 L457.3 230.9 L457.8 227.4 L458.3 223.9 L458.8 220.3 L459.3 216.7 L459.8 213.5 L460.3 209.9 L460.8 204.9 L461.3 197.6 L461.8 192.1 L462.3 187.4 L462.8 182.1 L463.3 175.8 L463.8 171.8 L464.3 169.6 L464.8 167.4 L465.3 162.4 L465.8 153.4 L466.3 145.3 L466.8 137.6 L467.3 129.5 L467.8 120.2 L468.3 114 L468.8 110 L469.3 105.8 L469.8 98.5 L470.3 88.9 L470.8 84.3 L471.3 81.2 L471.8 78.1 L472.3 74.4 L472.8 70.5 L473.3 66.1 L473.8 61.2 L474.3 56.6 L474.8 53 L475.3 50.2 L475.8 47.1 L476.3 43.3 L476.8 39.8 L477.3 37.6 L477.8 35.8 L478.3 33.3 L478.8 29.9 L479.3 28.5 L479.8 27.7 L480.3 27.1 L480.8 26.8 L481.3 26.7 L481.8 26.6 L482.3 26.9 L482.8 27.5 L483.3 28.2 L483.8 29.2 L484.3 30.6 L484.8 32.8 L485.3 34.9 L485.8 36.5 L486.3 38 L486.8 39.7 L487.3 41.3 L487.8 43.6 L488.3 47.8 L488.8 50.9 L489.3 53.7 L489.8 56.6 L490.3 59.4 L490.8 61.9 L491.3 63.8 L491.8 65.3 L492.3 66.7 L492.8 68 L493.3 69.6 L493.8 71.4 L494.3 73.5 L494.8 75.6 L495.3 77.6 L495.8 79.5 L496.3 81.3 L496.8 82.9 L497.3 84.4 L497.8 85.8 L498.3 87.1 L498.8 88.3 L499.3 89.3 L499.8 90 L500.3 90.6 L500.8 91.2 L501.3 91.5 L501.8 91.5 L502.3 91.2 L502.8 90.8 L503.3 90.2 L503.8 89.6 L504.3 88.6 L504.8 87.3 L505.3 85.9 L505.8 84 L506.3 81.8 L506.8 79.7 L507.3 78 L507.8 76.5 L508.3 75.1 L508.8 73.7 L509.3 72.4 L509.8 71.1 L510.3 69.7 L510.8 68.2 L511.3 66.8 L511.8 65.4 L512.3 64 L512.8 62.7 L513.3 61.5 L513.8 60.2 L514.3 59 L514.8 57.9 L515.3 56.9 L515.8 56.2 L516.3 55.8 L516.8 55.4 L517.3 55 L517.8 54.7 L518.3 54.5 L518.8 54.2 L519.3 54.1 L519.8 53.9 L520.3 53.9 L520.8 54 L521.3 54.2 L521.8 54.7 L522.3 55.2 L522.8 55.8 L523.3 56.5 L523.8 57.2 L524.3 57.9 L524.8 58.8 L525.3 59.8 L525.8 60.9 L526.3 62.1 L526.8 63.3 L527.3 64.5 L527.8 65.8 L528.3 67.2 L528.8 68.6 L529.3 70.1 L529.8 71.6 L530.3 73.2 L530.8 74.8 L531.3 76.5 L531.8 78.2 L532.3 79.9 L532.8 81.7 L533.3 83.5 L533.8 85.3 L534.3 87.3 L534.8 89.3 L535.3 91.5 L535.8 93.6 L536.3 95.6 L536.8 97.5 L537.3 99.3 L537.8 101 L538.3 102.6 L538.8 104.2 L539.3 105.7 L539.8 107.2 L540.3 108.7 L540.8 110.1 L541.3 111.5 L541.8 112.8 L542.3 114.2 L542.8 115.5 L543.3 116.7 L543.8 117.9 L544.3 119.1 L544.8 120.3 L545.3 121.5 L545.8 122.6 L546.3 123.8 L546.8 125 L547.3 126.2 L547.8 127.4 L548.3 128.6 L548.8 129.8 L549.3 131 L549.8 132.3 L550.3 133.5 L550.8 134.8 L551.3 136 L551.8 137.2 L552.3 138.5 L552.8 139.7 L553.3 140.9 L553.8 142.2 L554.3 143.4 L554.8 144.6 L555.3 145.9 L555.8 147.1 L556.3 148.3 L556.8 149.5 L557.3 150.8 L557.8 152" fill="none" stroke="#000" stroke-width="0.8"/>
<g fill="#fff" stroke="#151515" stroke-width="0.9"><circle cx="365.8" cy="308.8" r="1.4"/><circle cx="367" cy="308.8" r="1.4"/><circle cx="368.2" cy="308.8" r="1.4"/><circle cx="369.4" cy="308.7" r="1.4"/><circle cx="370.6" cy="308.6" r="1.4"/><circle cx="371.8" cy="308.5" r="1.4"/><circle cx="373" cy="308.4" r="1.4"/><circle cx="374.2" cy="308.3" r="1.4"/><circle cx="375.4" cy="308.1" r="1.4"/><circle cx="376.6" cy="308" r="1.4"/><circle cx="377.8" cy="307.8" r="1.4"/><circle cx="379" cy="307.6" r="1.4"/><circle cx="380.2" cy="307.4" r="1.4"/><circle cx="381.4" cy="307" r="1.4"/><circle cx="382.6" cy="306.5" r="1.4"/><circle cx="383.8" cy="305.8" r="1.4"/><circle cx="385" cy="305" r="1.4"/><circle cx="386.2" cy="304" r="1.4"/><circle cx="387.4" cy="302.9" r="1.4"/><circle cx="388.6" cy="301.3" r="1.4"/><circle cx="389.8" cy="299.2" r="1.4"/><circle cx="391" cy="296.8" r="1.4"/><circle cx="392.2" cy="293.7" r="1.4"/><circle cx="393.4" cy="289.8" r="1.4"/><circle cx="394.6" cy="286" r="1.4"/><circle cx="395.8" cy="282.2" r="1.4"/><circle cx="397" cy="279.1" r="1.4"/><circle cx="398.2" cy="277.1" r="1.4"/><circle cx="399.4" cy="278" r="1.4"/><circle cx="400.6" cy="280.6" r="1.4"/><circle cx="401.8" cy="283.4" r="1.4"/><circle cx="403" cy="286.6" r="1.4"/><circle cx="404.2" cy="289.4" r="1.4"/><circle cx="405.4" cy="291.7" r="1.4"/><circle cx="406.6" cy="293.8" r="1.4"/><circle cx="407.8" cy="295.5" r="1.4"/><circle cx="409" cy="296.8" r="1.4"/><circle cx="410.2" cy="298" r="1.4"/><circle cx="411.4" cy="299.1" r="1.4"/><circle cx="412.6" cy="300" r="1.4"/><circle cx="413.8" cy="300.7" r="1.4"/><circle cx="415" cy="301" r="1.4"/><circle cx="416.2" cy="300.9" r="1.4"/><circle cx="417.4" cy="300.7" r="1.4"/><circle cx="418.6" cy="300.3" r="1.4"/><circle cx="419.8" cy="299.8" r="1.4"/><circle cx="421" cy="299.3" r="1.4"/><circle cx="422.2" cy="299" r="1.4"/><circle cx="423.4" cy="298.7" r="1.4"/><circle cx="424.6" cy="298.4" r="1.4"/><circle cx="425.8" cy="298.2" r="1.4"/><circle cx="427" cy="297.9" r="1.4"/><circle cx="428.2" cy="297.7" r="1.4"/><circle cx="429.4" cy="297.5" r="1.4"/><circle cx="430.6" cy="297.2" r="1.4"/><circle cx="431.8" cy="296.9" r="1.4"/><circle cx="433" cy="296.6" r="1.4"/><circle cx="434.2" cy="296.2" r="1.4"/><circle cx="435.4" cy="295.7" r="1.4"/><circle cx="436.6" cy="295.3" r="1.4"/><circle cx="437.8" cy="294.8" r="1.4"/><circle cx="439" cy="294.2" r="1.4"/><circle cx="440.2" cy="293.6" r="1.4"/><circle cx="441.4" cy="292.9" r="1.4"/><circle cx="442.6" cy="292.1" r="1.4"/><circle cx="443.8" cy="291.1" r="1.4"/><circle cx="445" cy="289.7" r="1.4"/><circle cx="446.2" cy="287.8" r="1.4"/><circle cx="447.4" cy="284.9" r="1.4"/><circle cx="448.6" cy="280.7" r="1.4"/><circle cx="449.8" cy="276.1" r="1.4"/><circle cx="451" cy="271.2" r="1.4"/><circle cx="452.2" cy="265.5" r="1.4"/><circle cx="453.4" cy="256.2" r="1.4"/><circle cx="454.6" cy="247.7" r="1.4"/><circle cx="475" cy="51.9" r="1.4"/><circle cx="476.2" cy="44.1" r="1.4"/><circle cx="477.4" cy="37.2" r="1.4"/><circle cx="478.6" cy="31" r="1.4"/><circle cx="479.8" cy="27.7" r="1.4"/><circle cx="481" cy="26.8" r="1.4"/><circle cx="482.2" cy="26.8" r="1.4"/><circle cx="483.4" cy="28.4" r="1.4"/><circle cx="484.6" cy="31.9" r="1.4"/><circle cx="485.8" cy="36.5" r="1.4"/><circle cx="487" cy="40.3" r="1.4"/><circle cx="488.2" cy="47" r="1.4"/><circle cx="489.4" cy="54.3" r="1.4"/><circle cx="490.6" cy="60.9" r="1.4"/><circle cx="491.8" cy="65.3" r="1.4"/><circle cx="493" cy="68.6" r="1.4"/><circle cx="494.2" cy="73.1" r="1.4"/><circle cx="495.4" cy="78" r="1.4"/><circle cx="496.6" cy="82.3" r="1.4"/><circle cx="497.8" cy="85.8" r="1.4"/><circle cx="499" cy="88.7" r="1.4"/><circle cx="500.2" cy="90.5" r="1.4"/><circle cx="501.4" cy="91.5" r="1.4"/><circle cx="502.6" cy="90.9" r="1.4"/><circle cx="503.8" cy="89.6" r="1.4"/><circle cx="505" cy="86.8" r="1.4"/><circle cx="506.2" cy="82.3" r="1.4"/><circle cx="507.4" cy="77.7" r="1.4"/><circle cx="508.6" cy="74.3" r="1.4"/><circle cx="509.8" cy="71.1" r="1.4"/><circle cx="511" cy="67.6" r="1.4"/><circle cx="512.2" cy="64.2" r="1.4"/><circle cx="513.4" cy="61.2" r="1.4"/><circle cx="514.6" cy="58.3" r="1.4"/><circle cx="515.8" cy="56.2" r="1.4"/><circle cx="517" cy="55.2" r="1.4"/><circle cx="518.2" cy="54.5" r="1.4"/><circle cx="519.4" cy="54" r="1.4"/><circle cx="520.6" cy="53.9" r="1.4"/><circle cx="521.8" cy="54.7" r="1.4"/><circle cx="523" cy="56.1" r="1.4"/><circle cx="524.2" cy="57.8" r="1.4"/><circle cx="525.4" cy="60" r="1.4"/><circle cx="526.6" cy="62.8" r="1.4"/><circle cx="527.8" cy="65.8" r="1.4"/><circle cx="529" cy="69.2" r="1.4"/><circle cx="530.2" cy="72.9" r="1.4"/><circle cx="531.4" cy="76.8" r="1.4"/><circle cx="532.6" cy="81" r="1.4"/><circle cx="533.8" cy="85.3" r="1.4"/><circle cx="535" cy="90.2" r="1.4"/><circle cx="536.2" cy="95.2" r="1.4"/><circle cx="537.4" cy="99.6" r="1.4"/><circle cx="538.6" cy="103.6" r="1.4"/><circle cx="539.8" cy="107.2" r="1.4"/><circle cx="541" cy="110.6" r="1.4"/><circle cx="542.2" cy="113.9" r="1.4"/><circle cx="543.4" cy="117" r="1.4"/><circle cx="544.6" cy="119.8" r="1.4"/><circle cx="545.8" cy="122.6" r="1.4"/><circle cx="547" cy="125.4" r="1.4"/><circle cx="548.2" cy="128.3" r="1.4"/><circle cx="549.4" cy="131.3" r="1.4"/><circle cx="550.6" cy="134.3" r="1.4"/><circle cx="551.8" cy="137.2" r="1.4"/><circle cx="553" cy="140.2" r="1.4"/><circle cx="554.2" cy="143.1" r="1.4"/><circle cx="555.4" cy="146.1" r="1.4"/><circle cx="556.6" cy="149.1" r="1.4"/><circle cx="557.8" cy="152" r="1.4"/></g>
<path d="M365.8 277.7 L366.3 277.7 L366.8 277.6 L367.3 277.6 L367.8 277.6 L368.3 277.5 L368.8 277.5 L369.3 277.4 L369.8 277.4 L370.3 277.3 L370.8 277.3 L371.3 277.2 L371.8 277.2 L372.3 277.1 L372.8 277.1 L373.3 277 L373.8 276.9 L374.3 276.9 L374.8 276.8 L375.3 276.8 L375.8 276.7 L376.3 276.6 L376.8 276.6 L377.3 276.5 L377.8 276.4 L378.3 276.4 L378.8 276.3 L379.3 276.2 L379.8 276.1 L380.3 275.9 L380.8 275.7 L381.3 275.3 L381.8 275 L382.3 274.5 L382.8 274.1 L383.3 273.7 L383.8 273.2 L384.3 272.8 L384.8 272.2 L385.3 271.6 L385.8 271.1 L386.3 270.5 L386.8 269.9 L387.3 269.4 L387.8 269 L388.3 268.6 L388.8 268.3 L389.3 268 L389.8 267.8 L390.3 267.5 L390.8 267.3 L391.3 267 L391.8 266.8 L392.3 266.6 L392.8 266.5 L393.3 266.4 L393.8 266.3 L394.3 266.3 L394.8 266.4 L395.3 266.5 L395.8 266.7 L396.3 267 L396.8 267.3 L397.3 267.6 L397.8 268 L398.3 268.4 L398.8 268.9 L399.3 269.7 L399.8 270.5 L400.3 271.1 L400.8 271.6 L401.3 272.1 L401.8 272.6 L402.3 273 L402.8 273.4 L403.3 273.8 L403.8 274.1 L404.3 274.4 L404.8 274.7 L405.3 274.9 L405.8 275.2 L406.3 275.5 L406.8 275.7 L407.3 275.9 L407.8 276.1 L408.3 276.3 L408.8 276.4 L409.3 276.5 L409.8 276.5 L410.3 276.6 L410.8 276.6 L411.3 276.7 L411.8 276.7 L412.3 276.7 L412.8 276.7 L413.3 276.8 L413.8 276.8 L414.3 276.8 L414.8 276.8 L415.3 276.8 L415.8 276.8 L416.3 276.8 L416.8 276.8 L417.3 276.8 L417.8 276.8 L418.3 276.8 L418.8 276.8 L419.3 276.7 L419.8 276.7 L420.3 276.7 L420.8 276.7 L421.3 276.7 L421.8 276.7 L422.3 276.6 L422.8 276.6 L423.3 276.6 L423.8 276.6 L424.3 276.6 L424.8 276.5 L425.3 276.5 L425.8 276.5 L426.3 276.5 L426.8 276.4 L427.3 276.4 L427.8 276.4 L428.3 276.3 L428.8 276.3 L429.3 276.3 L429.8 276.2 L430.3 276.2 L430.8 276.1 L431.3 276.1 L431.8 276 L432.3 275.9 L432.8 275.8 L433.3 275.8 L433.8 275.7 L434.3 275.6 L434.8 275.5 L435.3 275.4 L435.8 275.2 L436.3 275.1 L436.8 275 L437.3 274.8 L437.8 274.6 L438.3 274.3 L438.8 274.1 L439.3 273.8 L439.8 273.5 L440.3 273.2 L440.8 272.9 L441.3 272.6 L441.8 272.2 L442.3 271.9 L442.8 271.4 L443.3 271 L443.8 270.5 L444.3 270 L444.8 269.5 L445.3 268.9 L445.8 268.3 L446.3 267.7 L446.8 267 L447.3 266.3 L447.8 265.6 L448.3 264.8 L448.8 264 L449.3 263.2 L449.8 262.3 L450.3 261.5 L450.8 260.5 L451.3 259.4 L451.8 258.2 L452.3 256.8 L452.8 255.2 L453.3 253.4 L453.8 251.5 L454.3 249.5 L454.8 247.5 L455.3 245.4 L455.8 243 L456.3 240.3 L456.8 237 L457.3 233 L457.8 228.8 L458.3 224.7 L458.8 220.6 L459.3 216.7 L459.8 213.4 L460.3 209.9 L460.8 204.9 L461.3 197.6 L461.8 192.1 L462.3 187.4 L462.8 182.1 L463.3 175.8 L463.8 171.8 L464.3 169.6 L464.8 167.4 L465.3 162.4 L465.8 153.4 L466.3 145.3 L466.8 137.6 L467.3 129.5 L467.8 120.2 L468.3 114 L468.8 110 L469.3 105.8 L469.8 98.5 L470.3 88.9 L470.8 84.3 L471.3 81.2 L471.8 78.1 L472.3 74.5 L472.8 71 L473.3 68.3 L473.8 66 L474.3 63.5 L474.8 61 L475.3 58.1 L475.8 55 L476.3 52.6 L476.8 51 L477.3 49.7 L477.8 48.8 L478.3 48.4 L478.8 48.1 L479.3 48 L479.8 48.2 L480.3 48.8 L480.8 49.5 L481.3 50.3 L481.8 51.4 L482.3 53 L482.8 54.9 L483.3 56.8 L483.8 58.6 L484.3 60.4 L484.8 62.2 L485.3 64.1 L485.8 65.9 L486.3 68.1 L486.8 70.8 L487.3 73.8 L487.8 76.7 L488.3 80.1 L488.8 83.7 L489.3 86.3 L489.8 88.4 L490.3 90.7 L490.8 93.9 L491.3 96.3 L491.8 98.1 L492.3 99.8 L492.8 101.7 L493.3 103.8 L493.8 105.7 L494.3 107.3 L494.8 108.7 L495.3 110.1 L495.8 111.3 L496.3 112.5 L496.8 113.6 L497.3 114.7 L497.8 115.5 L498.3 116.1 L498.8 116.7 L499.3 117 L499.8 117.2 L500.3 117.1 L500.8 116.7 L501.3 116.3 L501.8 115.7 L502.3 115.1 L502.8 114.2 L503.3 113.1 L503.8 111.9 L504.3 110.6 L504.8 109.3 L505.3 107.8 L505.8 106.2 L506.3 104.5 L506.8 102.5 L507.3 100.1 L507.8 97.4 L508.3 94.6 L508.8 91.9 L509.3 89.1 L509.8 86.2 L510.3 83.5 L510.8 80.7 L511.3 77.7 L511.8 74.8 L512.3 72.3 L512.8 70.5 L513.3 69.4 L513.8 68.5 L514.3 67.6 L514.8 66.9 L515.3 66.4 L515.8 66.1 L516.3 66.1 L516.8 66.3 L517.3 66.5 L517.8 66.9 L518.3 67.3 L518.8 67.8 L519.3 68.3 L519.8 69 L520.3 69.9 L520.8 70.9 L521.3 71.9 L521.8 73.1 L522.3 74.3 L522.8 75.6 L523.3 77.2 L523.8 78.8 L524.3 80.5 L524.8 82.3 L525.3 84.1 L525.8 86.1 L526.3 88.1 L526.8 90.3 L527.3 92.6 L527.8 94.9 L528.3 97.2 L528.8 99.6 L529.3 102.1 L529.8 104.7 L530.3 107.3 L530.8 109.8 L531.3 112 L531.8 114 L532.3 116 L532.8 117.9 L533.3 119.7 L533.8 121.5 L534.3 123.4 L534.8 125.3 L535.3 127.2 L535.8 128.9 L536.3 130.5 L536.8 131.8 L537.3 132.9 L537.8 133.9 L538.3 134.8 L538.8 135.7 L539.3 136.5 L539.8 137.3 L540.3 137.9 L540.8 138.5 L541.3 139 L541.8 139.3 L542.3 139.6 L542.8 139.9 L543.3 140.1 L543.8 140.4 L544.3 140.6 L544.8 140.7 L545.3 140.9 L545.8 141.1 L546.3 141.2 L546.8 141.4 L547.3 141.5 L547.8 141.6 L548.3 141.8 L548.8 141.9 L549.3 142 L549.8 142.1 L550.3 142.2 L550.8 142.3 L551.3 142.4 L551.8 142.5 L552.3 142.6 L552.8 142.6 L553.3 142.7 L553.8 142.9 L554.3 143 L554.8 143.1 L555.3 143.3 L555.8 143.7 L556.3 144.3 L556.8 145 L557.3 145.8 L557.8 146.7 L558 147" fill="none" stroke="#000" stroke-width="0.8"/>
<g fill="#000"><rect x="364.1" y="276" width="3.4" height="3.4"/><rect x="365.5" y="275.9" width="3.4" height="3.4"/><rect x="366.9" y="275.8" width="3.4" height="3.4"/><rect x="368.3" y="275.7" width="3.4" height="3.4"/><rect x="369.7" y="275.5" width="3.4" height="3.4"/><rect x="371.1" y="275.4" width="3.4" height="3.4"/><rect x="372.5" y="275.2" width="3.4" height="3.4"/><rect x="373.9" y="275" width="3.4" height="3.4"/><rect x="375.3" y="274.9" width="3.4" height="3.4"/><rect x="376.7" y="274.7" width="3.4" height="3.4"/><rect x="378.1" y="274.4" width="3.4" height="3.4"/><rect x="379.5" y="273.7" width="3.4" height="3.4"/><rect x="380.9" y="272.6" width="3.4" height="3.4"/><rect x="382.3" y="271.4" width="3.4" height="3.4"/><rect x="383.7" y="269.8" width="3.4" height="3.4"/><rect x="385.1" y="268.2" width="3.4" height="3.4"/><rect x="386.5" y="267" width="3.4" height="3.4"/><rect x="387.9" y="266.2" width="3.4" height="3.4"/><rect x="389.3" y="265.5" width="3.4" height="3.4"/><rect x="390.7" y="264.9" width="3.4" height="3.4"/><rect x="392.1" y="264.6" width="3.4" height="3.4"/><rect x="393.5" y="264.8" width="3.4" height="3.4"/><rect x="394.9" y="265.5" width="3.4" height="3.4"/><rect x="396.3" y="266.5" width="3.4" height="3.4"/><rect x="397.7" y="268.2" width="3.4" height="3.4"/><rect x="399.1" y="269.9" width="3.4" height="3.4"/><rect x="400.5" y="271.2" width="3.4" height="3.4"/><rect x="401.9" y="272.3" width="3.4" height="3.4"/><rect x="403.3" y="273.1" width="3.4" height="3.4"/><rect x="404.7" y="273.8" width="3.4" height="3.4"/><rect x="406.1" y="274.4" width="3.4" height="3.4"/><rect x="407.5" y="274.8" width="3.4" height="3.4"/><rect x="408.9" y="274.9" width="3.4" height="3.4"/><rect x="410.3" y="275" width="3.4" height="3.4"/><rect x="411.7" y="275.1" width="3.4" height="3.4"/><rect x="413.1" y="275.1" width="3.4" height="3.4"/><rect x="414.5" y="275.1" width="3.4" height="3.4"/><rect x="415.9" y="275.1" width="3.4" height="3.4"/><rect x="417.3" y="275.1" width="3.4" height="3.4"/><rect x="418.7" y="275" width="3.4" height="3.4"/><rect x="420.1" y="275" width="3.4" height="3.4"/><rect x="421.5" y="274.9" width="3.4" height="3.4"/><rect x="422.9" y="274.8" width="3.4" height="3.4"/><rect x="424.3" y="274.8" width="3.4" height="3.4"/><rect x="425.7" y="274.7" width="3.4" height="3.4"/><rect x="427.1" y="274.6" width="3.4" height="3.4"/><rect x="428.5" y="274.5" width="3.4" height="3.4"/><rect x="429.9" y="274.3" width="3.4" height="3.4"/><rect x="431.3" y="274.1" width="3.4" height="3.4"/><rect x="432.7" y="273.9" width="3.4" height="3.4"/><rect x="434.1" y="273.5" width="3.4" height="3.4"/><rect x="435.5" y="273.1" width="3.4" height="3.4"/><rect x="436.9" y="272.5" width="3.4" height="3.4"/><rect x="438.3" y="271.7" width="3.4" height="3.4"/><rect x="439.7" y="270.8" width="3.4" height="3.4"/><rect x="441.1" y="269.7" width="3.4" height="3.4"/><rect x="442.5" y="268.4" width="3.4" height="3.4"/><rect x="443.9" y="266.9" width="3.4" height="3.4"/><rect x="445.3" y="265.1" width="3.4" height="3.4"/><rect x="446.7" y="262.9" width="3.4" height="3.4"/><rect x="448.1" y="260.6" width="3.4" height="3.4"/><rect x="449.5" y="258" width="3.4" height="3.4"/><rect x="450.9" y="254.2" width="3.4" height="3.4"/><rect x="452.3" y="249" width="3.4" height="3.4"/><rect x="453.7" y="243.2" width="3.4" height="3.4"/><rect x="455.1" y="235.3" width="3.4" height="3.4"/><rect x="456.5" y="223.9" width="3.4" height="3.4"/><rect x="457.9" y="212.9" width="3.4" height="3.4"/><rect x="459.3" y="200.3" width="3.4" height="3.4"/><rect x="460.7" y="184.7" width="3.4" height="3.4"/><rect x="462.1" y="170.1" width="3.4" height="3.4"/><rect x="463.5" y="162.1" width="3.4" height="3.4"/><rect x="464.9" y="139" width="3.4" height="3.4"/><rect x="466.3" y="115.5" width="3.4" height="3.4"/><rect x="467.7" y="103.1" width="3.4" height="3.4"/><rect x="469.1" y="82.6" width="3.4" height="3.4"/><rect x="470.5" y="73.5" width="3.4" height="3.4"/><rect x="471.9" y="65.2" width="3.4" height="3.4"/><rect x="473.3" y="58.2" width="3.4" height="3.4"/><rect x="474.7" y="50.6" width="3.4" height="3.4"/><rect x="476.1" y="47.1" width="3.4" height="3.4"/><rect x="477.5" y="46.3" width="3.4" height="3.4"/><rect x="478.9" y="47.5" width="3.4" height="3.4"/><rect x="480.3" y="50.3" width="3.4" height="3.4"/><rect x="481.7" y="55.5" width="3.4" height="3.4"/><rect x="483.1" y="60.5" width="3.4" height="3.4"/><rect x="484.5" y="65.9" width="3.4" height="3.4"/><rect x="485.9" y="73.8" width="3.4" height="3.4"/><rect x="487.3" y="83.1" width="3.4" height="3.4"/><rect x="488.7" y="89.6" width="3.4" height="3.4"/><rect x="490.1" y="96.4" width="3.4" height="3.4"/><rect x="491.5" y="101.6" width="3.4" height="3.4"/><rect x="492.9" y="106.4" width="3.4" height="3.4"/><rect x="494.3" y="110.1" width="3.4" height="3.4"/><rect x="495.7" y="113.2" width="3.4" height="3.4"/><rect x="497.1" y="115" width="3.4" height="3.4"/><rect x="498.5" y="115.4" width="3.4" height="3.4"/><rect x="499.9" y="114.3" width="3.4" height="3.4"/><rect x="501.3" y="112.1" width="3.4" height="3.4"/><rect x="502.7" y="108.6" width="3.4" height="3.4"/><rect x="504.1" y="104.5" width="3.4" height="3.4"/><rect x="505.5" y="98.9" width="3.4" height="3.4"/><rect x="506.9" y="91.3" width="3.4" height="3.4"/><rect x="508.3" y="83.4" width="3.4" height="3.4"/><rect x="509.7" y="75.4" width="3.4" height="3.4"/><rect x="511.1" y="68.8" width="3.4" height="3.4"/><rect x="512.5" y="66.1" width="3.4" height="3.4"/><rect x="513.9" y="64.5" width="3.4" height="3.4"/><rect x="515.3" y="64.6" width="3.4" height="3.4"/><rect x="516.7" y="65.7" width="3.4" height="3.4"/><rect x="518.1" y="67.3" width="3.4" height="3.4"/><rect x="519.5" y="70" width="3.4" height="3.4"/><rect x="520.9" y="73.4" width="3.4" height="3.4"/><rect x="522.3" y="77.8" width="3.4" height="3.4"/><rect x="523.7" y="82.8" width="3.4" height="3.4"/><rect x="525.1" y="88.6" width="3.4" height="3.4"/><rect x="526.5" y="95" width="3.4" height="3.4"/><rect x="527.9" y="102" width="3.4" height="3.4"/><rect x="529.3" y="109" width="3.4" height="3.4"/><rect x="530.7" y="114.7" width="3.4" height="3.4"/><rect x="532.1" y="119.8" width="3.4" height="3.4"/><rect x="533.5" y="125.1" width="3.4" height="3.4"/><rect x="534.9" y="129.6" width="3.4" height="3.4"/><rect x="536.3" y="132.6" width="3.4" height="3.4"/><rect x="537.7" y="135" width="3.4" height="3.4"/><rect x="539.1" y="136.8" width="3.4" height="3.4"/><rect x="540.5" y="137.9" width="3.4" height="3.4"/><rect x="541.9" y="138.6" width="3.4" height="3.4"/><rect x="543.3" y="139.1" width="3.4" height="3.4"/><rect x="544.7" y="139.6" width="3.4" height="3.4"/><rect x="546.1" y="139.9" width="3.4" height="3.4"/><rect x="547.5" y="140.3" width="3.4" height="3.4"/><rect x="548.9" y="140.6" width="3.4" height="3.4"/><rect x="550.3" y="140.8" width="3.4" height="3.4"/><rect x="551.7" y="141.1" width="3.4" height="3.4"/><rect x="553.1" y="141.4" width="3.4" height="3.4"/><rect x="554.5" y="142.5" width="3.4" height="3.4"/><rect x="555.9" y="144.6" width="3.4" height="3.4"/></g>
<g fill="#fff"><rect x="453.3" y="250" width="1.4" height="1.4"/><rect x="457.5" y="224.9" width="1.4" height="1.4"/><rect x="461.7" y="185.7" width="1.4" height="1.4"/><rect x="465.9" y="140" width="1.4" height="1.4"/><rect x="470.1" y="83.6" width="1.4" height="1.4"/><rect x="474.3" y="59.2" width="1.4" height="1.4"/><rect x="482.7" y="56.5" width="1.4" height="1.4"/><rect x="486.9" y="74.8" width="1.4" height="1.4"/><rect x="491.1" y="97.4" width="1.4" height="1.4"/><rect x="503.7" y="109.6" width="1.4" height="1.4"/><rect x="507.9" y="92.3" width="1.4" height="1.4"/><rect x="524.7" y="83.8" width="1.4" height="1.4"/><rect x="528.9" y="103" width="1.4" height="1.4"/><rect x="533.1" y="120.8" width="1.4" height="1.4"/></g>
<g fill="#000"><circle cx="365.8" cy="265.8" r="1.7"/><circle cx="367" cy="265.7" r="1.7"/><circle cx="368.2" cy="265.5" r="1.7"/><circle cx="369.4" cy="265.2" r="1.7"/><circle cx="370.6" cy="264.9" r="1.7"/><circle cx="371.8" cy="264.5" r="1.7"/><circle cx="373" cy="264.1" r="1.7"/><circle cx="374.2" cy="263.6" r="1.7"/><circle cx="375.4" cy="263" r="1.7"/><circle cx="376.6" cy="262.4" r="1.7"/><circle cx="377.8" cy="261.6" r="1.7"/><circle cx="379" cy="260.7" r="1.7"/><circle cx="380.2" cy="259.8" r="1.7"/><circle cx="381.4" cy="258.8" r="1.7"/><circle cx="382.6" cy="257.6" r="1.7"/><circle cx="383.8" cy="256.2" r="1.7"/><circle cx="385" cy="254.7" r="1.7"/><circle cx="386.2" cy="253" r="1.7"/><circle cx="387.4" cy="251.1" r="1.7"/><circle cx="388.6" cy="249.1" r="1.7"/><circle cx="389.8" cy="247.2" r="1.7"/><circle cx="391" cy="245.3" r="1.7"/><circle cx="392.2" cy="244" r="1.7"/><circle cx="393.4" cy="243.4" r="1.7"/><circle cx="394.6" cy="243.9" r="1.7"/><circle cx="395.8" cy="245.3" r="1.7"/><circle cx="397" cy="248.1" r="1.7"/><circle cx="398.2" cy="251.1" r="1.7"/><circle cx="399.4" cy="253.6" r="1.7"/><circle cx="400.6" cy="256.1" r="1.7"/><circle cx="401.8" cy="258.1" r="1.7"/><circle cx="403" cy="259.5" r="1.7"/><circle cx="404.2" cy="260.7" r="1.7"/><circle cx="405.4" cy="261.7" r="1.7"/><circle cx="406.6" cy="262.4" r="1.7"/><circle cx="407.8" cy="262.9" r="1.7"/><circle cx="409" cy="263.4" r="1.7"/><circle cx="410.2" cy="263.8" r="1.7"/><circle cx="411.4" cy="264.2" r="1.7"/><circle cx="412.6" cy="264.5" r="1.7"/><circle cx="413.8" cy="264.7" r="1.7"/><circle cx="415" cy="264.9" r="1.7"/><circle cx="416.2" cy="265" r="1.7"/><circle cx="417.4" cy="265.1" r="1.7"/><circle cx="418.6" cy="265.2" r="1.7"/><circle cx="419.8" cy="265.2" r="1.7"/><circle cx="421" cy="265.3" r="1.7"/><circle cx="422.2" cy="265.3" r="1.7"/><circle cx="423.4" cy="265.3" r="1.7"/><circle cx="424.6" cy="265.3" r="1.7"/><circle cx="425.8" cy="265.3" r="1.7"/><circle cx="427" cy="265.2" r="1.7"/><circle cx="428.2" cy="265.2" r="1.7"/><circle cx="429.4" cy="265.2" r="1.7"/><circle cx="430.6" cy="265.1" r="1.7"/><circle cx="431.8" cy="265.1" r="1.7"/><circle cx="433" cy="265" r="1.7"/><circle cx="434.2" cy="265" r="1.7"/><circle cx="435.4" cy="264.9" r="1.7"/><circle cx="436.6" cy="264.9" r="1.7"/><circle cx="437.8" cy="264.8" r="1.7"/><circle cx="439" cy="264.8" r="1.7"/><circle cx="440.2" cy="264.8" r="1.7"/><circle cx="441.4" cy="264.8" r="1.7"/><circle cx="442.6" cy="264.9" r="1.7"/><circle cx="443.8" cy="265" r="1.7"/><circle cx="445" cy="265" r="1.7"/><circle cx="446.2" cy="264.9" r="1.7"/><circle cx="447.4" cy="264.5" r="1.7"/><circle cx="448.6" cy="264.1" r="1.7"/><circle cx="449.8" cy="263.7" r="1.7"/><circle cx="451" cy="263.2" r="1.7"/><circle cx="452.2" cy="262.7" r="1.7"/><circle cx="453.4" cy="262.1" r="1.7"/><circle cx="454.6" cy="261.4" r="1.7"/><circle cx="455.8" cy="260.5" r="1.7"/><circle cx="457" cy="259.4" r="1.7"/><circle cx="458.2" cy="258" r="1.7"/><circle cx="459.4" cy="256.5" r="1.7"/><circle cx="460.6" cy="254.6" r="1.7"/><circle cx="461.8" cy="252.3" r="1.7"/><circle cx="463" cy="250.1" r="1.7"/><circle cx="464.2" cy="247.8" r="1.7"/><circle cx="465.4" cy="244" r="1.7"/><circle cx="466.6" cy="239.7" r="1.7"/><circle cx="467.8" cy="233.7" r="1.7"/><circle cx="469" cy="229.1" r="1.7"/><circle cx="470.2" cy="221.5" r="1.7"/><circle cx="471.4" cy="214.3" r="1.7"/><circle cx="472.6" cy="206.9" r="1.7"/><circle cx="473.8" cy="199.1" r="1.7"/><circle cx="475" cy="192.1" r="1.7"/><circle cx="476.2" cy="187" r="1.7"/><circle cx="477.4" cy="182.4" r="1.7"/><circle cx="478.6" cy="179.3" r="1.7"/><circle cx="479.8" cy="177.6" r="1.7"/><circle cx="481" cy="177.8" r="1.7"/><circle cx="482.2" cy="179.3" r="1.7"/><circle cx="483.4" cy="181.4" r="1.7"/><circle cx="484.6" cy="183.8" r="1.7"/><circle cx="485.8" cy="186.9" r="1.7"/><circle cx="487" cy="190.1" r="1.7"/><circle cx="488.2" cy="193.2" r="1.7"/><circle cx="489.4" cy="196.2" r="1.7"/><circle cx="490.6" cy="199" r="1.7"/><circle cx="491.8" cy="201.7" r="1.7"/><circle cx="493" cy="204.2" r="1.7"/><circle cx="494.2" cy="206.6" r="1.7"/><circle cx="495.4" cy="208.7" r="1.7"/><circle cx="496.6" cy="210.6" r="1.7"/><circle cx="497.8" cy="212.6" r="1.7"/><circle cx="499" cy="214.5" r="1.7"/><circle cx="500.2" cy="216.2" r="1.7"/><circle cx="501.4" cy="217.5" r="1.7"/><circle cx="502.6" cy="218.2" r="1.7"/><circle cx="503.8" cy="218.2" r="1.7"/><circle cx="505" cy="217.3" r="1.7"/><circle cx="506.2" cy="215.7" r="1.7"/><circle cx="507.4" cy="213.8" r="1.7"/><circle cx="508.6" cy="211.6" r="1.7"/><circle cx="509.8" cy="209.2" r="1.7"/><circle cx="511" cy="205.6" r="1.7"/><circle cx="512.2" cy="201.6" r="1.7"/><circle cx="513.4" cy="198" r="1.7"/><circle cx="514.6" cy="195.6" r="1.7"/><circle cx="515.8" cy="193.7" r="1.7"/><circle cx="517" cy="192" r="1.7"/><circle cx="518.2" cy="190.8" r="1.7"/><circle cx="519.4" cy="190.4" r="1.7"/><circle cx="520.6" cy="190.9" r="1.7"/><circle cx="521.8" cy="192.1" r="1.7"/><circle cx="523" cy="193.6" r="1.7"/><circle cx="524.2" cy="195.3" r="1.7"/><circle cx="525.4" cy="196.8" r="1.7"/><circle cx="526.6" cy="198.5" r="1.7"/><circle cx="527.8" cy="200.3" r="1.7"/><circle cx="529" cy="202.2" r="1.7"/><circle cx="530.2" cy="204" r="1.7"/><circle cx="531.4" cy="205.9" r="1.7"/><circle cx="532.6" cy="207.8" r="1.7"/><circle cx="533.8" cy="209.8" r="1.7"/><circle cx="535" cy="211.6" r="1.7"/><circle cx="536.2" cy="213.4" r="1.7"/><circle cx="537.4" cy="215" r="1.7"/><circle cx="538.6" cy="216.4" r="1.7"/><circle cx="539.8" cy="217.9" r="1.7"/><circle cx="541" cy="219.4" r="1.7"/><circle cx="542.2" cy="220.9" r="1.7"/><circle cx="543.4" cy="222.2" r="1.7"/><circle cx="544.6" cy="223.2" r="1.7"/><circle cx="545.8" cy="223.9" r="1.7"/><circle cx="547" cy="224.1" r="1.7"/><circle cx="548.2" cy="224.1" r="1.7"/><circle cx="549.4" cy="224.1" r="1.7"/><circle cx="550.6" cy="224" r="1.7"/><circle cx="551.8" cy="224" r="1.7"/><circle cx="553" cy="223.9" r="1.7"/><circle cx="554.2" cy="223.7" r="1.7"/><circle cx="555.4" cy="223.4" r="1.7"/><circle cx="556.6" cy="222.9" r="1.7"/><circle cx="557.8" cy="222.5" r="1.7"/></g>
<rect x="365.5" y="2.5" width="197" height="361" fill="none" stroke="#000" stroke-width="1.25"/>
<path d="M380.5 363.5 V368.8 M402.5 363.5 V366.8 M424.5 363.5 V368.8 M446.5 363.5 V366.8 M469.5 363.5 V368.8 M491.5 363.5 V366.8 M513.5 363.5 V368.8 M535.5 363.5 V366.8 M557.5 363.5 V368.8 " stroke="#000" stroke-width="1.15"/>
<text x="380.5" y="383" text-anchor="middle" font-family="Liberation Sans" font-size="13.5" fill="#000">3.5</text>
<text x="424.7" y="383" text-anchor="middle" font-family="Liberation Sans" font-size="13.5" fill="#000">3.4</text>
<text x="468.9" y="383" text-anchor="middle" font-family="Liberation Sans" font-size="13.5" fill="#000">3.3</text>
<text x="513.1" y="383" text-anchor="middle" font-family="Liberation Sans" font-size="13.5" fill="#000">3.2</text>
<text x="557.3" y="383" text-anchor="middle" font-family="Liberation Sans" font-size="13.5" fill="#000">3.1</text>
<text x="405.5" y="15.9" font-family="Liberation Sans" font-size="13.9" fill="#000">AT=50K</text>
<circle cx="383.6" cy="11.5" r="1.8" fill="#000"/>
<text x="405.5" y="34.9" font-family="Liberation Sans" font-size="13.9" fill="#000">BT=100K</text>
<path d="M365.5 30.5 H401.6" stroke="#000" stroke-width="1.1"/>
<rect x="382.1" y="29" width="3" height="3" fill="#000"/>
<text x="405.5" y="53.8" font-family="Liberation Sans" font-size="13.9" fill="#000">CT=150K</text>
<path d="M365.5 49.5 H401.6" stroke="#000" stroke-width="1.1"/>
<circle cx="383.6" cy="49.5" r="1.6" fill="#fff" stroke="#000" stroke-width="0.9"/>
<text x="405.5" y="72.8" font-family="Liberation Sans" font-size="13.9" fill="#000">DT=200K</text>
<path d="M365.5 68.5 H401.6" stroke="#ff00ff" stroke-width="1.1"/>
<path d="M381.6 66.7 H385.6 L383.6 70.5 Z" fill="#ff00ff"/>
<text x="405.5" y="91.7" font-family="Liberation Sans" font-size="13.9" fill="#000">ET=250K</text>
<path d="M365.5 87.5 H401.6" stroke="#0000ff" stroke-width="1.1"/>
<path d="M381.6 89.3 H385.6 L383.6 85.5 Z" fill="#0000ff"/>
<text x="405.5" y="110.7" font-family="Liberation Sans" font-size="13.9" fill="#000">FT=300K</text>
<path d="M365.5 106.5 H401.6" stroke="#ff0000" stroke-width="1.1"/>
<rect x="381.9" y="104.8" width="3.4" height="3.4" fill="#ff0000"/>
<!-- left labels -->
<g font-family="Liberation Sans" fill="#000">
<text x="63" y="24.9" font-size="13.4">FE</text>
<text x="76.6" y="106.7" font-size="13.4">FE-LO</text>
<text x="105.2" y="131.7" font-size="12.6">FE-2LO</text>
<text x="154.6" y="132.8" font-size="13.4">(A)</text>
<text x="198.2" y="151.4" font-size="13.4">(B)</text>
<text x="197.8" y="188.9" font-size="13.4">(C)</text>
<text x="198.2" y="217.1" font-size="13.4">(D)</text>
<text x="198" y="265.9" font-size="13.4">(E)</text>
<text x="198.4" y="307.8" font-size="13.4">(F)</text>
<text x="199" y="348.3" font-size="13.4">(G)</text>
<text x="68.4" y="409" font-size="18.9">Energy [eV]</text>
<text transform="translate(14.1 252.9) rotate(-90)" font-size="18.6">Intensity [a.u.]</text>
</g>
<g font-family="Liberation Serif" font-weight="bold" fill="#000" font-size="12.6">
<text x="155" y="14.1">A (T=30K)</text>
<text x="155" y="30.9">B (T=50K)</text>
<text x="155" y="47.8">C (T=75K)</text>
<text x="155" y="64.8">D (T=100K)</text>
<text x="155" y="81.9">E (T=150K)</text>
<text x="155" y="99.0">F (T=200K)</text>
<text x="155" y="116.1">G (T=300K)</text>
</g>
<g font-family="Liberation Sans" fill="#000">
<text x="367" y="243.6" font-size="13.4">(A)</text>
<text x="367" y="293.7" font-size="13.4">(B)</text>
<text x="367" y="322.2" font-size="13.4">(C)</text>
<text x="535.2" y="293.4" font-size="13.4">(D)</text>
<text x="535.6" y="327" font-size="13.4">(E)</text>
<text x="533.4" y="351.9" font-size="13.4">(F)</text>
<text x="414.8" y="409" font-size="18.9">Energy [eV]</text>
<text transform="translate(350.3 267.1) rotate(-90)" font-size="19.2">Intensity [a.u.]</text>
</g>
</svg>
</body></html>
